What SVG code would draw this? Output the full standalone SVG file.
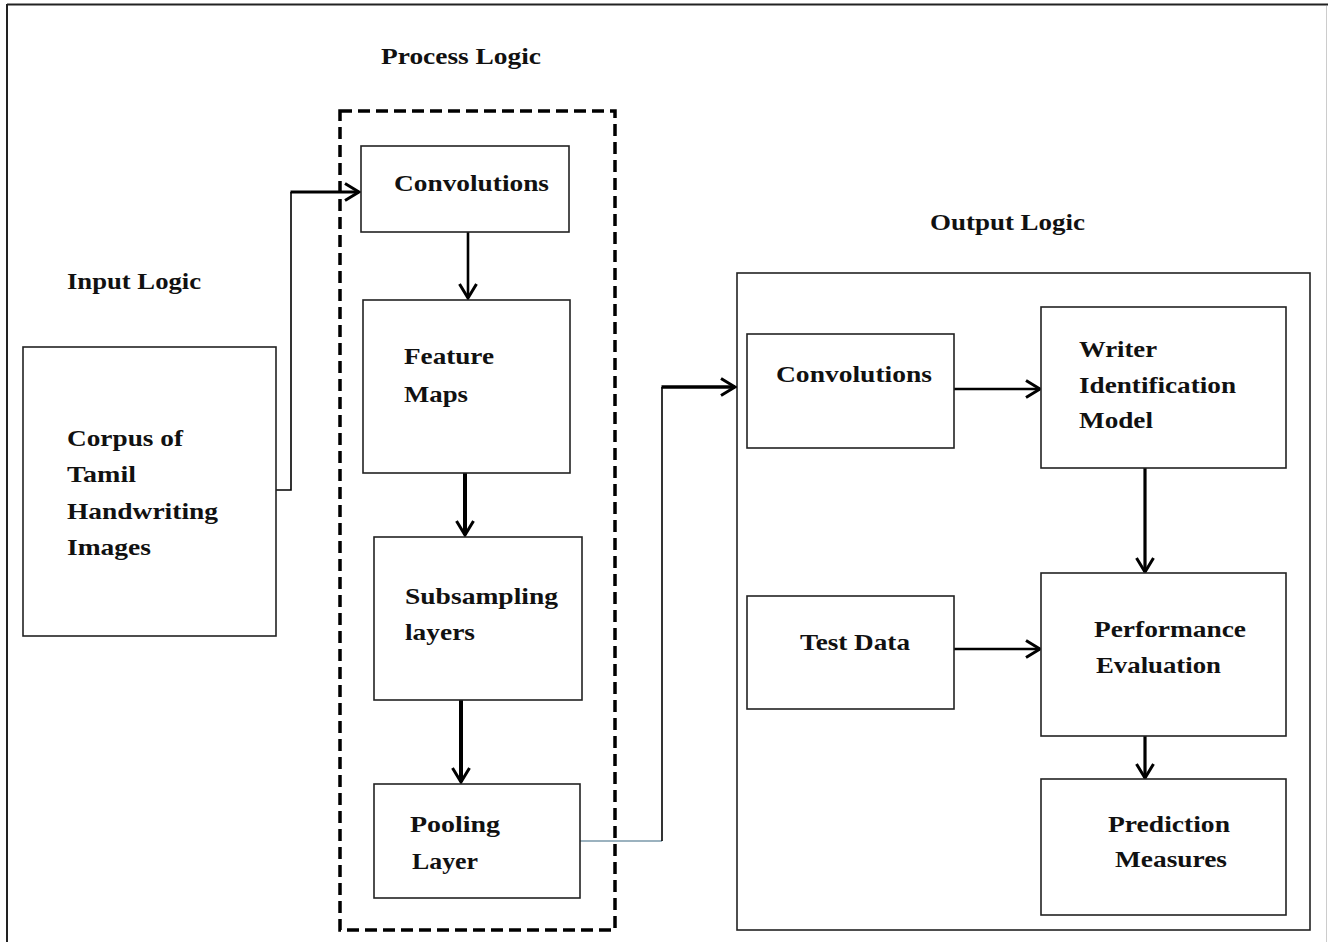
<svg xmlns="http://www.w3.org/2000/svg" width="1328" height="942" viewBox="0 0 1328 942">
<defs>
<style>
.box{fill:#fff;stroke:#222;stroke-width:1.6}
.t{font-family:"Liberation Serif","Times New Roman",serif;font-weight:bold;font-size:24px;fill:#111}
.c{fill:none;stroke:#000;stroke-linecap:butt;stroke-linejoin:miter}
</style>
<marker id="ah" viewBox="0 0 20 20" refX="18" refY="10" markerWidth="20" markerHeight="20" markerUnits="userSpaceOnUse" orient="auto">
<path d="M4,1.5 L18,10 L4,18.5" fill="none" stroke="#000" stroke-width="3"/>
</marker>
</defs>
<rect width="1328" height="942" fill="#fff"/>
<g id="frame">
<line x1="7" y1="4.5" x2="1328" y2="4.5" stroke="#222" stroke-width="2"/>
<line x1="7" y1="4" x2="7" y2="942" stroke="#222" stroke-width="2"/>
<line x1="1326.5" y1="6" x2="1326.5" y2="942" stroke="#ccc" stroke-width="1"/>
</g>
<g id="process-logic-label"><text class="t" x="381" y="64" textLength="160" lengthAdjust="spacingAndGlyphs">Process Logic</text></g>
<g id="input-logic-label"><text class="t" x="67" y="289" textLength="134" lengthAdjust="spacingAndGlyphs">Input Logic</text></g>
<g id="output-logic-label"><text class="t" x="930" y="230" textLength="155" lengthAdjust="spacingAndGlyphs">Output Logic</text></g>
<g id="process-group"><rect x="340" y="111" width="275" height="819" fill="none" stroke="#000" stroke-width="3.5" stroke-dasharray="12 6"/></g>
<g id="output-group"><rect x="737" y="273" width="573" height="657" fill="none" stroke="#222" stroke-width="1.6"/></g>
<g id="connectors">
<path class="c" d="M276,490 H291 V192" stroke-width="1.6"/>
<path class="c" d="M290.5,192 H359" stroke-width="2.8" marker-end="url(#ah)"/>
<path class="c" d="M468,232 V298" stroke-width="2.6" marker-end="url(#ah)"/>
<path class="c" d="M465,473 V535" stroke-width="4" marker-end="url(#ah)"/>
<path class="c" d="M461,700 V782" stroke-width="4" marker-end="url(#ah)"/>
<path d="M580,841 H662" fill="none" stroke="#7a98aa" stroke-width="1.4"/>
<path class="c" d="M662,841 V387" stroke-width="1.6"/>
<path class="c" d="M661.5,387 H735" stroke-width="3.5" marker-end="url(#ah)"/>
<path class="c" d="M954,389 H1040" stroke-width="2.6" marker-end="url(#ah)"/>
<path class="c" d="M1145,468 V572" stroke-width="3.2" marker-end="url(#ah)"/>
<path class="c" d="M954,649 H1040" stroke-width="2.6" marker-end="url(#ah)"/>
<path class="c" d="M1145,736 V778" stroke-width="3.2" marker-end="url(#ah)"/>
</g>
<g id="corpus">
<rect class="box" x="23" y="347" width="253" height="289"/>
<text class="t" x="67" y="446" textLength="116" lengthAdjust="spacingAndGlyphs">Corpus of</text>
<text class="t" x="67" y="482" textLength="69" lengthAdjust="spacingAndGlyphs">Tamil</text>
<text class="t" x="67" y="519" textLength="151" lengthAdjust="spacingAndGlyphs">Handwriting</text>
<text class="t" x="67" y="555" textLength="84" lengthAdjust="spacingAndGlyphs">Images</text>
</g>
<g id="convolutions-1">
<rect class="box" x="361" y="146" width="208" height="86"/>
<text class="t" x="394" y="191" textLength="155" lengthAdjust="spacingAndGlyphs">Convolutions</text>
</g>
<g id="feature-maps">
<rect class="box" x="363" y="300" width="207" height="173"/>
<text class="t" x="404" y="364" textLength="90" lengthAdjust="spacingAndGlyphs">Feature</text>
<text class="t" x="404" y="402" textLength="64" lengthAdjust="spacingAndGlyphs">Maps</text>
</g>
<g id="subsampling">
<rect class="box" x="374" y="537" width="208" height="163"/>
<text class="t" x="405" y="604" textLength="153" lengthAdjust="spacingAndGlyphs">Subsampling</text>
<text class="t" x="405" y="640" textLength="70" lengthAdjust="spacingAndGlyphs">layers</text>
</g>
<g id="pooling">
<rect class="box" x="374" y="784" width="206" height="114"/>
<text class="t" x="410" y="832" textLength="90" lengthAdjust="spacingAndGlyphs">Pooling</text>
<text class="t" x="412" y="869" textLength="66" lengthAdjust="spacingAndGlyphs">Layer</text>
</g>
<g id="convolutions-2">
<rect class="box" x="747" y="334" width="207" height="114"/>
<text class="t" x="776" y="382" textLength="156" lengthAdjust="spacingAndGlyphs">Convolutions</text>
</g>
<g id="writer-model">
<rect class="box" x="1041" y="307" width="245" height="161"/>
<text class="t" x="1079" y="357" textLength="78" lengthAdjust="spacingAndGlyphs">Writer</text>
<text class="t" x="1079" y="393" textLength="157" lengthAdjust="spacingAndGlyphs">Identification</text>
<text class="t" x="1079" y="428" textLength="74" lengthAdjust="spacingAndGlyphs">Model</text>
</g>
<g id="test-data">
<rect class="box" x="747" y="596" width="207" height="113"/>
<text class="t" x="800" y="650" textLength="110" lengthAdjust="spacingAndGlyphs">Test Data</text>
</g>
<g id="performance">
<rect class="box" x="1041" y="573" width="245" height="163"/>
<text class="t" x="1094" y="637" textLength="152" lengthAdjust="spacingAndGlyphs">Performance</text>
<text class="t" x="1096" y="673" textLength="125" lengthAdjust="spacingAndGlyphs">Evaluation</text>
</g>
<g id="prediction">
<rect class="box" x="1041" y="779" width="245" height="136"/>
<text class="t" x="1108" y="832" textLength="122" lengthAdjust="spacingAndGlyphs">Prediction</text>
<text class="t" x="1115" y="867" textLength="112" lengthAdjust="spacingAndGlyphs">Measures</text>
</g>
</svg>
